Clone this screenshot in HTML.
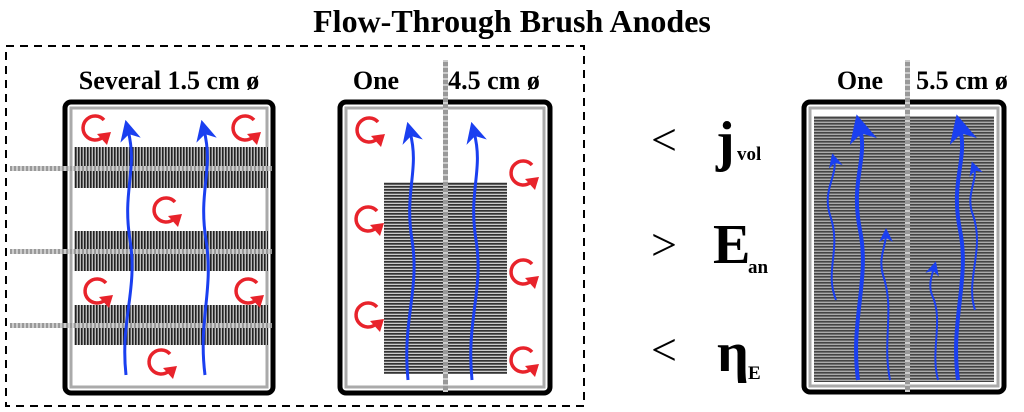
<!DOCTYPE html>
<html><head><meta charset="utf-8"><style>
html,body{margin:0;padding:0;background:#fff;width:1024px;height:412px;overflow:hidden}
text{font-family:"Liberation Serif",serif;font-weight:bold;fill:#000}
</style></head><body>
<svg width="1024" height="412" viewBox="0 0 1024 412" xmlns="http://www.w3.org/2000/svg">
<defs>
<pattern id="vs" width="3" height="10" patternUnits="userSpaceOnUse"><rect width="3" height="10" fill="#bbb"/><rect width="1.6" height="10" fill="#222"/></pattern>
<pattern id="hs" width="10" height="3" patternUnits="userSpaceOnUse"><rect width="10" height="3" fill="#ccc"/><rect width="10" height="1.7" fill="#333"/></pattern>
<pattern id="hs2" width="10" height="3" patternUnits="userSpaceOnUse"><rect width="10" height="3" fill="#aaa"/><rect width="10" height="1.6" fill="#444"/></pattern>
<pattern id="wire" width="3" height="6" patternUnits="userSpaceOnUse"><rect width="3" height="6" fill="#999"/><rect width="3" height="2" fill="#ccc"/></pattern>
<pattern id="wireh" width="4" height="3" patternUnits="userSpaceOnUse"><rect width="4" height="3" fill="#999"/><rect width="2" height="3" fill="#ccc"/></pattern>
<marker id="ab" viewBox="0 0 10 10" refX="5" refY="5" markerWidth="7" markerHeight="7" orient="auto"><path d="M0,0L10,5L0,10L3,5z" fill="#1a3ff0"/></marker>
<g id="rc"><path d="M10,-8 A12,12 0 1 0 9,9" fill="none" stroke="#e8232b" stroke-width="3.5"/><path d="M3,6 L17,4 L13,17z" fill="#e8232b"/></g>
</defs>
<text x="512" y="32" font-size="32" text-anchor="middle">Flow-Through Brush Anodes</text>
<rect x="6" y="46" width="578" height="360" fill="none" stroke="#000" stroke-width="2" stroke-dasharray="8,6"/>

<!-- Box 1 -->
<text x="169" y="89" font-size="26" text-anchor="middle">Several 1.5 cm ø</text>
<rect x="65" y="102" width="208" height="291" rx="6" fill="#fff" stroke="#000" stroke-width="5"/>
<rect x="71" y="108" width="196" height="279" fill="#fff" stroke="#aaa" stroke-width="3"/>
<rect x="74" y="147" width="194" height="41" fill="url(#vs)"/>
<rect x="74" y="231" width="194" height="40" fill="url(#vs)"/>
<rect x="74" y="305" width="194" height="40" fill="url(#vs)"/>
<rect x="10" y="166" width="262" height="5" fill="url(#wireh)"/>
<rect x="10" y="249" width="262" height="5" fill="url(#wireh)"/>
<rect x="10" y="323" width="262" height="5" fill="url(#wireh)"/>
<path d="M126,375 C120,320 138,290 130,240 C122,190 138,170 128,130" fill="none" stroke="#1a3ff0" stroke-width="3" marker-end="url(#ab)"/>
<path d="M205,375 C198,320 214,290 206,240 C198,190 214,170 204,130" fill="none" stroke="#1a3ff0" stroke-width="3" marker-end="url(#ab)"/>
<use href="#rc" x="94" y="128"/><use href="#rc" x="244" y="128"/><use href="#rc" x="165" y="210"/>
<use href="#rc" x="96" y="291"/><use href="#rc" x="247" y="291"/><use href="#rc" x="160" y="362"/>

<!-- Box 2 -->
<rect x="340" y="102" width="210" height="291" rx="6" fill="#fff" stroke="#000" stroke-width="5"/>
<rect x="346" y="108" width="198" height="279" fill="#fff" stroke="#aaa" stroke-width="3"/>
<rect x="384" y="182" width="123" height="192" fill="url(#hs)"/>
<rect x="443" y="60" width="5" height="332" fill="url(#wire)"/>
<text x="376" y="89" font-size="26" text-anchor="middle">One</text>
<text x="494" y="89" font-size="26" text-anchor="middle">4.5 cm ø</text>
<path d="M408,380 C402,320 420,290 412,240 C404,190 420,170 410,132" fill="none" stroke="#1a3ff0" stroke-width="3" marker-end="url(#ab)"/>
<path d="M472,380 C466,320 484,290 476,240 C468,190 484,170 474,132" fill="none" stroke="#1a3ff0" stroke-width="3" marker-end="url(#ab)"/>
<use href="#rc" x="368" y="130"/><use href="#rc" x="522" y="173"/><use href="#rc" x="367" y="219"/>
<use href="#rc" x="522" y="272"/><use href="#rc" x="367" y="315"/><use href="#rc" x="522" y="360"/>

<!-- Symbols -->
<text x="664" y="155" font-size="46" style="font-weight:normal" text-anchor="middle">&lt;</text>
<text x="716" y="160" font-size="56">j</text><text x="737" y="160" font-size="19">vol</text>
<text x="664" y="260" font-size="46" style="font-weight:normal" text-anchor="middle">&gt;</text>
<text x="713" y="263" font-size="56">E</text><text x="748" y="273" font-size="19">an</text>
<text x="664" y="365" font-size="46" style="font-weight:normal" text-anchor="middle">&lt;</text>
<text x="717" y="371" font-size="56">η</text><text x="748" y="379" font-size="19">E</text>

<!-- Box 3 -->
<text x="860" y="89" font-size="26" text-anchor="middle">One</text>
<text x="962" y="89" font-size="26" text-anchor="middle">5.5 cm ø</text>
<rect x="804" y="102" width="200" height="290" rx="6" fill="#fff" stroke="#000" stroke-width="5"/>
<rect x="810" y="108" width="188" height="278" fill="#fff" stroke="#aaa" stroke-width="3"/>
<rect x="814" y="116" width="180" height="266" fill="url(#hs2)"/>
<rect x="905" y="60" width="5" height="332" fill="url(#wire)"/>
<path d="M858,380 C850,320 870,280 860,230 C850,180 868,160 860,128" fill="none" stroke="#1a3ff0" stroke-width="4" marker-end="url(#ab)"/>
<path d="M958,380 C950,320 970,280 960,230 C950,180 968,160 960,128" fill="none" stroke="#1a3ff0" stroke-width="4" marker-end="url(#ab)"/>
<path d="M836,300 C824,270 842,250 830,215 C822,190 838,175 834,160" fill="none" stroke="#1a3ff0" stroke-width="2" marker-end="url(#ab)"/>
<path d="M975,310 C965,280 985,250 973,215 C965,195 978,180 974,168" fill="none" stroke="#1a3ff0" stroke-width="2" marker-end="url(#ab)"/>
<path d="M890,380 C882,340 895,310 883,275 C878,258 886,245 886,235" fill="none" stroke="#1a3ff0" stroke-width="2" marker-end="url(#ab)"/>
<path d="M938,380 C930,350 944,320 932,295 C928,285 932,275 934,268" fill="none" stroke="#1a3ff0" stroke-width="2" marker-end="url(#ab)"/>
</svg>
</body></html>
